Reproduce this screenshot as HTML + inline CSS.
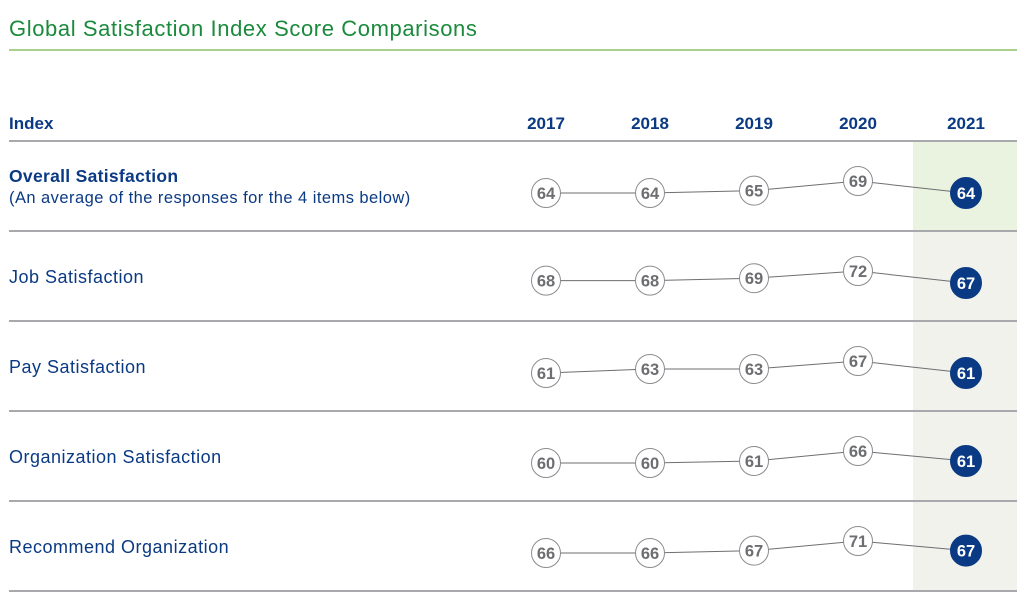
<!DOCTYPE html>
<html><head><meta charset="utf-8"><style>
body{margin:0;background:#fff;width:1030px;height:603px;overflow:hidden;font-family:"Liberation Sans",sans-serif}
svg{display:block}
</style></head><body>
<svg id="chart" width="1030" height="603">
<text x="9" y="36" font-size="22" letter-spacing="0.6" fill="#1a8a3c">Global Satisfaction Index Score Comparisons</text>
<line x1="9" y1="50" x2="1017" y2="50" stroke="#a9d08e" stroke-width="2"/>
<rect x="913" y="142" width="104" height="89" fill="#eaf3e0"/>
<rect x="913" y="232" width="104" height="359" fill="#f1f2ec"/>
<text x="9" y="129" font-size="17" font-weight="bold" fill="#0b3a84">Index</text>
<g id="years"></g>
<line x1="9" y1="141" x2="1017" y2="141" stroke="#a7a9ac" stroke-width="2"/>
<g id="rows"></g>
</svg>
<script>
const years=["2017","2018","2019","2020","2021"];
const labels=["Overall Satisfaction","Job Satisfaction","Pay Satisfaction","Organization Satisfaction","Recommend Organization"];
const overall=[64,64,65,69,64];
const job=[68,68,69,72,67];
const pay=[61,63,63,67,61];
const org=[60,60,61,66,61];
const recommend=[66,66,67,71,67];
const series=[overall,job,pay,org,recommend];
const NS="http://www.w3.org/2000/svg";
const xPos=i=>[546,650,754,858,966][i];
const rowTop=r=>141+r*90;
function mk(t,a,p){const e=document.createElementNS(NS,t);for(const k in a)e.setAttribute(k,a[k]);p.appendChild(e);return e;}
const yg=document.getElementById('years');
years.forEach((y,i)=>{const t=mk('text',{x:xPos(i),y:129,'font-size':17,'font-weight':'bold',fill:'#0b3a84','text-anchor':'middle'},yg);t.textContent=y;

});
const rg=document.getElementById('rows');
series.forEach((vals,r)=>{
 const top=rowTop(r);
 const g=mk('g',{},rg);
 
 
 if(r===0){
  const t=mk('text',{x:9,y:top+41,'font-size':17.5,'font-weight':'bold',fill:'#0b3a84','letter-spacing':0.3},g);t.textContent=labels[r];
  
  
  const s=mk('text',{x:9,y:top+62,'font-size':16.5,fill:'#0b3a84','letter-spacing':0.45},g);s.textContent="(An average of the responses for the 4 items below)";
  
  
 } else {
  const t=mk('text',{x:9,y:top+52,'font-size':18,fill:'#0b3a84','letter-spacing':0.5},g);t.textContent=labels[r];
  
  
 }
 const mn=Math.min(...vals),mx=Math.max(...vals);
 const yv=v=>top+52-(mx===mn?0:(v-mn)/(mx-mn)*12);
 const pts=vals.map((v,i)=>xPos(i)+','+yv(v)).join(' ');
 const pl=mk('polyline',{points:pts,fill:'none',stroke:'#6d6e71','stroke-width':1},g);
 
 
 vals.forEach((v,i)=>{
  const last=i===vals.length-1;
  const c=mk('circle',{cx:xPos(i),cy:yv(v),r:last?15.5:14.5,fill:last?'#0b3a84':'#fff',stroke:last?'#0b3a84':'#8a8c8f','stroke-width':1},g);
  
  
  const t=mk('text',{x:xPos(i),y:yv(v)+6,'font-size':16.5,'font-weight':'bold',fill:last?'#fff':'#6d6e71','text-anchor':'middle'},g);t.textContent=v;
  
  
 });
 const ln=mk('line',{x1:9,y1:top+90,x2:1017,y2:top+90,stroke:'#a7a9ac','stroke-width':2},g);
 
 
});
</script>
</body></html>
